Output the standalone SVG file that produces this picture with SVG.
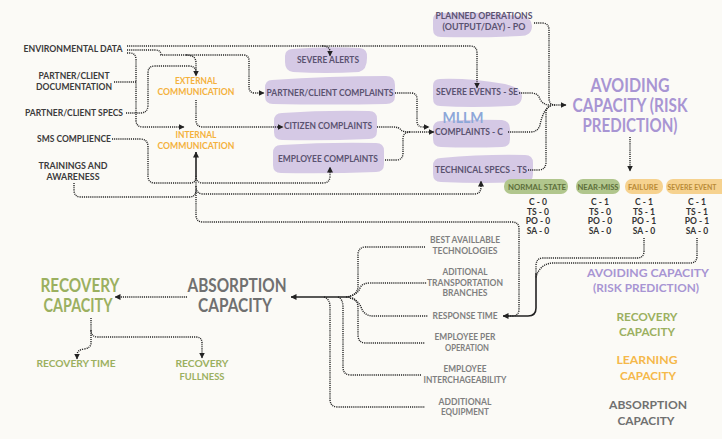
<svg xmlns="http://www.w3.org/2000/svg" width="722" height="439" viewBox="0 0 722 439">
<defs>
<style>
text{font-family:Lato,"Liberation Sans",sans-serif;font-weight:700;text-anchor:middle}
.l{font-size:9px;fill:#3b3b3b}
.o{font-size:9.5px;fill:#F4B13C}
.b{font-size:9px;fill:#5a5270}
.t{font-size:8.5px;fill:#333}
.g{font-size:8.5px;fill:#7f7f7f}
.bp{font-size:18px;fill:#A895D3}
.bg{font-size:18px;fill:#707070}
.bgr{font-size:18px;fill:#9BB060}
.sg{font-size:9px;fill:#9BB060}
.lg{font-size:11.5px}
.blob{fill:#D5C9E5}
.d{fill:none;stroke:#222;stroke-width:1.4;stroke-dasharray:1.1 1}
.s{fill:none;stroke:#222;stroke-width:1.6}
</style>
<marker id="a" viewBox="0 0 6 6" refX="5.5" refY="3" markerWidth="6" markerHeight="6" markerUnits="userSpaceOnUse" orient="auto"><path d="M0,0 L6,3 L0,6 Z" fill="#222"/></marker>
</defs>
<rect width="722" height="439" fill="#FBFAF6"/>

<g id="blobs">
<path class="blob" d="M292,49 Q326,46 360,48 Q368,49 367,58 Q367,70 359,72 Q326,74 293,72 Q285,71 285,62 V56 Q285,50 292,49 Z"/>
<path class="blob" d="M272,80 Q330,76 386,76 Q395,76 395,85 V96 Q395,104 386,104 Q330,105 273,104 Q265,104 265,96 V88 Q265,80 272,80 Z"/>
<path class="blob" d="M282,113 Q325,110 369,111 Q377,111 377,119 V131 Q377,139 369,139 Q325,141 282,140 Q274,140 274,132 V121 Q274,113 282,113 Z"/>
<path class="blob" d="M281,145 Q328,142 376,143 Q384,143 384,151 V164 Q384,172 376,172 Q328,174 281,173 Q273,173 273,165 V153 Q273,145 281,145 Z"/>
<path class="blob" d="M440,13 Q480,11 520,16 Q532,18 532,26 Q532,36 520,36 Q480,38 441,37 Q433,37 433,29 V20 Q433,13 440,13 Z"/>
<path class="blob" d="M440,79 Q470,78 505,84 Q522,88 522,96 Q522,106 510,106 Q470,108 440,106 Q433,106 433,98 V86 Q433,79 440,79 Z"/>
<path class="blob" d="M441,121 Q475,119 502,120 Q510,121 510,129 V139 Q510,147 502,147 Q470,148 441,147 Q433,147 433,139 V129 Q433,121 441,121 Z"/>
<path class="blob" d="M441,158 Q485,154 525,155 Q533,155 533,163 V174 Q533,182 525,182 Q485,184 441,182 Q433,182 433,174 V166 Q433,158 441,158 Z"/>
<rect x="504" y="179" width="64" height="15" rx="7" fill="#B1C68D"/>
<rect x="576" y="179" width="44" height="15" rx="7" fill="#B1C68D"/>
<rect x="625" y="179" width="38" height="15" rx="7" fill="#F6D28F"/>
<rect x="666" y="179" width="62" height="15" rx="7" fill="#F6D28F"/>
</g>

<g id="connectors">
<path class="d" d="M127,46 H470 Q477,46 477,53 V88" marker-end="url(#a)"/>
<path class="d" d="M322,46 Q330,46 330,52 V56" marker-end="url(#a)"/>
<path class="d" d="M127,50 H155 Q161,50 161,55 H243 Q249,55 249,61 V87 Q249,93 255,93 H264" marker-end="url(#a)"/>
<path class="d" d="M186,55 Q196,55 196,63 V76" marker-end="url(#a)"/>
<path class="d" d="M127,53 H130 Q136,53 136,60 V120 Q136,127 143,127 H184" marker-end="url(#a)"/>
<path class="d" d="M114,82 H136"/>
<path class="d" d="M126,113 H140 Q148,113 148,105 V73 Q148,66 155,66 H188 Q196,66 196,72"/>
<path class="d" d="M196,100 V120 Q196,127 203,127 H283" marker-end="url(#a)"/>
<path class="d" d="M112,139 H140 Q148,139 148,147 V176 Q148,183 155,183 H190 Q196,183 196,177"/>
<path class="d" d="M74,183 V190 Q74,197 81,197 H189 Q196,197 196,190"/>
<path class="s" d="M196,176 V152" marker-end="url(#a)"/>
<path class="d" d="M196,176 Q196,183 203,183 H323 Q330,183 330,176 V167" marker-end="url(#a)"/>
<path class="d" d="M196,186 Q196,194 203,194 H474 Q481,194 481,187 V181" marker-end="url(#a)"/>
<path class="d" d="M196,176 V215 Q196,222 203,222 H512 Q519,222 519,229 V309 Q519,316 512,316 H504"/>
<path class="d" d="M395,93 H411 Q417,93 417,99 V121 Q417,127 423,127 H429" marker-end="url(#a)"/>
<path class="d" d="M377,127 H393 Q399,127 401,130 Q403,132 409,132 H434" marker-end="url(#a)"/>
<path class="d" d="M385,160 H396 Q403,160 403,153 V139 Q403,132 410,132"/>
<path class="d" d="M519,93 H531 Q538,93 540,99 Q543,105 550,105 H566" marker-end="url(#a)"/>
<path class="d" d="M508,132 H530 Q538,132 540,125 Q543,110 550,106"/>
<path class="d" d="M528,170 H538 Q546,170 546,162 V113 Q546,106 552,106"/>
<path class="d" d="M534,23 H542 Q549,23 549,30 V98 Q549,105 555,105"/>
<path class="d" d="M630,137 V171" marker-end="url(#a)"/>
<path class="d" d="M644,238 V251 Q644,258 637,258 H543 Q536,258 536,266 V273"/>
<path class="d" d="M697,238 V256 Q697,263 690,263 H553 Q546,263 541,268 Q537,272 536,278"/>
<path class="s" d="M536,273 V308 Q536,316 528,316 H503" marker-end="url(#a)"/>
<path class="s" d="M350,297 H291" marker-end="url(#a)"/>
<path class="d" d="M346,297 Q357,296 358,287 V255 Q358,247 366,247 H425"/>
<path class="d" d="M350,296 Q358,294 360,288 Q362,283 370,283 H427"/>
<path class="d" d="M350,298 Q358,300 361,307 Q364,316 373,316 H428"/>
<path class="d" d="M352,298 Q358,300 358,308 V335 Q358,343 366,343 H425"/>
<path class="d" d="M338,297 Q343,299 343,307 V367 Q343,375 351,375 H422"/>
<path class="d" d="M324,297 Q330,299 330,307 V399 Q330,407 338,407 H425"/>
<path class="d" d="M187,297 H115" marker-end="url(#a)"/>
<path class="d" d="M91,318 V343 Q91,348 84,349 Q77,350 77,355 V359" marker-end="url(#a)"/>
<path class="d" d="M91,330 Q91,337 98,337 H196 Q202,337 202,343 V358" marker-end="url(#a)"/>
</g>

<g id="n-env"><text class="l" x="73" y="52" textLength="99" lengthAdjust="spacingAndGlyphs">ENVIRONMENTAL DATA</text></g>
<g id="n-doc"><text class="l" x="74" y="79" textLength="71" lengthAdjust="spacingAndGlyphs">PARTNER/CLIENT</text><text class="l" x="74" y="90" textLength="76" lengthAdjust="spacingAndGlyphs">DOCUMENTATION</text></g>
<g id="n-specs"><text class="l" x="74" y="116" textLength="98" lengthAdjust="spacingAndGlyphs">PARTNER/CLIENT SPECS</text></g>
<g id="n-sms"><text class="l" x="74" y="142" textLength="74" lengthAdjust="spacingAndGlyphs">SMS COMPLIENCE</text></g>
<g id="n-train"><text class="l" x="73" y="169" textLength="69" lengthAdjust="spacingAndGlyphs">TRAININGS AND</text><text class="l" x="73" y="180" textLength="53" lengthAdjust="spacingAndGlyphs">AWARENESS</text></g>
<g id="n-ext"><text class="o" x="196" y="84" textLength="42" lengthAdjust="spacingAndGlyphs">EXTERNAL</text><text class="o" x="196" y="95" textLength="77" lengthAdjust="spacingAndGlyphs">COMMUNICATION</text></g>
<g id="n-int"><text class="o" x="196" y="138" textLength="41" lengthAdjust="spacingAndGlyphs">INTERNAL</text><text class="o" x="196" y="149" textLength="77" lengthAdjust="spacingAndGlyphs">COMMUNICATION</text></g>
<g id="n-alerts"><text class="b" x="328" y="63" textLength="62" lengthAdjust="spacingAndGlyphs">SEVERE ALERTS</text></g>
<g id="n-pcc"><text class="b" x="330" y="96" textLength="127" lengthAdjust="spacingAndGlyphs">PARTNER/CLIENT COMPLAINTS</text></g>
<g id="n-cit"><text class="b" x="328" y="129" textLength="88" lengthAdjust="spacingAndGlyphs">CITIZEN COMPLAINTS</text></g>
<g id="n-emp"><text class="b" x="328" y="162" textLength="100" lengthAdjust="spacingAndGlyphs">EMPLOYEE COMPLAINTS</text></g>
<g id="n-po"><text class="b" x="484" y="19" textLength="97" lengthAdjust="spacingAndGlyphs">PLANNED OPERATIONS</text><text class="b" x="484" y="30" textLength="83" lengthAdjust="spacingAndGlyphs">(OUTPUT/DAY) - PO</text></g>
<g id="n-se"><text class="b" x="477" y="95" textLength="82" lengthAdjust="spacingAndGlyphs">SEVERE EVENTS - SE</text></g>
<g id="n-mllm"><text x="463" y="123" font-size="16" fill="#8DA7D9" font-weight="400" textLength="41" lengthAdjust="spacingAndGlyphs">MLLM</text></g>
<g id="n-c"><text class="b" x="469" y="135" textLength="68" lengthAdjust="spacingAndGlyphs">COMPLAINTS - C</text></g>
<g id="n-ts"><text class="b" x="481" y="173" textLength="92" lengthAdjust="spacingAndGlyphs">TECHNICAL SPECS - TS</text></g>
<g id="n-avoid"><text class="bp" x="630" y="92" textLength="79" lengthAdjust="spacingAndGlyphs">AVOIDING</text><text class="bp" x="630" y="112" textLength="115" lengthAdjust="spacingAndGlyphs">CAPACITY (RISK</text><text class="bp" x="630" y="132" textLength="95" lengthAdjust="spacingAndGlyphs">PREDICTION)</text></g>

<g id="n-table">
<text x="537" y="190" font-size="8" fill="#5C6E3A" textLength="58" lengthAdjust="spacingAndGlyphs">NORMAL STATE</text>
<text x="598" y="190" font-size="8" fill="#5C6E3A" textLength="41" lengthAdjust="spacingAndGlyphs">NEAR-MISS</text>
<text x="643" y="190" font-size="8" fill="#B98A36" textLength="30" lengthAdjust="spacingAndGlyphs">FAILURE</text>
<text x="692" y="190" font-size="7.5" fill="#B98A36" textLength="49" lengthAdjust="spacingAndGlyphs">SEVERE EVENT</text>
<text class="t" x="538" y="205">C - 0</text><text class="t" x="538" y="215">TS - 0</text><text class="t" x="538" y="224">PO - 0</text><text class="t" x="538" y="234">SA - 0</text>
<text class="t" x="600" y="205">C - 1</text><text class="t" x="600" y="215">TS - 0</text><text class="t" x="600" y="224">PO - 0</text><text class="t" x="600" y="234">SA - 0</text>
<text class="t" x="644" y="205">C - 1</text><text class="t" x="644" y="215">TS - 1</text><text class="t" x="644" y="224">PO - 1</text><text class="t" x="644" y="234">SA - 0</text>
<text class="t" x="697" y="205">C - 1</text><text class="t" x="697" y="215">TS - 1</text><text class="t" x="697" y="224">PO - 1</text><text class="t" x="697" y="234">SA - 0</text>
</g>

<g id="n-bat"><text class="g" x="465" y="243" textLength="70" lengthAdjust="spacingAndGlyphs">BEST AVAILLABLE</text><text class="g" x="465" y="254" textLength="65" lengthAdjust="spacingAndGlyphs">TECHNOLOGIES</text></g>
<g id="n-atb"><text class="g" x="465" y="275" textLength="45" lengthAdjust="spacingAndGlyphs">ADITIONAL</text><text class="g" x="465" y="286" textLength="76" lengthAdjust="spacingAndGlyphs">TRANSPORTATION</text><text class="g" x="465" y="296" textLength="45" lengthAdjust="spacingAndGlyphs">BRANCHES</text></g>
<g id="n-rt"><text class="g" x="465" y="319" textLength="65" lengthAdjust="spacingAndGlyphs">RESPONSE TIME</text></g>
<g id="n-epo"><text class="g" x="465" y="340" textLength="61" lengthAdjust="spacingAndGlyphs">EMPLOYEE PER</text><text class="g" x="467" y="351" textLength="44" lengthAdjust="spacingAndGlyphs">OPERATION</text></g>
<g id="n-ei"><text class="g" x="465" y="372" textLength="43" lengthAdjust="spacingAndGlyphs">EMPLOYEE</text><text class="g" x="465" y="383" textLength="83" lengthAdjust="spacingAndGlyphs">INTERCHAGEABILITY</text></g>
<g id="n-ae"><text class="g" x="465" y="405" textLength="53" lengthAdjust="spacingAndGlyphs">ADDITIONAL</text><text class="g" x="465" y="415" textLength="48" lengthAdjust="spacingAndGlyphs">EQUIPMENT</text></g>

<g id="n-abs"><text class="bg" x="237" y="292" textLength="99" lengthAdjust="spacingAndGlyphs">ABSORPTION</text><text class="bg" x="235" y="312" textLength="74" lengthAdjust="spacingAndGlyphs">CAPACITY</text></g>
<g id="n-rec"><text class="bgr" x="80" y="292" textLength="79" lengthAdjust="spacingAndGlyphs">RECOVERY</text><text class="bgr" x="78" y="312" textLength="69" lengthAdjust="spacingAndGlyphs">CAPACITY</text></g>
<g id="n-rtime"><text class="sg" x="76" y="367" textLength="79" lengthAdjust="spacingAndGlyphs">RECOVERY TIME</text></g>
<g id="n-rfull"><text class="sg" x="202" y="367" textLength="53" lengthAdjust="spacingAndGlyphs">RECOVERY</text><text class="sg" x="202" y="380" textLength="45" lengthAdjust="spacingAndGlyphs">FULLNESS</text></g>

<g id="legend">
<text class="lg" x="648" y="277" fill="#A895D3" textLength="122" lengthAdjust="spacingAndGlyphs">AVOIDING CAPACITY</text>
<text class="lg" x="646" y="292" fill="#A895D3" textLength="106" lengthAdjust="spacingAndGlyphs">(RISK PREDICTION)</text>
<text class="lg" x="647" y="321" fill="#9BB060" textLength="61" lengthAdjust="spacingAndGlyphs">RECOVERY</text>
<text class="lg" x="647" y="336" fill="#9BB060" textLength="56" lengthAdjust="spacingAndGlyphs">CAPACITY</text>
<text class="lg" x="647" y="364" fill="#F5B84A" textLength="61" lengthAdjust="spacingAndGlyphs">LEARNING</text>
<text class="lg" x="648" y="380" fill="#F5B84A" textLength="56" lengthAdjust="spacingAndGlyphs">CAPACITY</text>
<text class="lg" x="648" y="409" fill="#707070" textLength="78" lengthAdjust="spacingAndGlyphs">ABSORPTION</text>
<text class="lg" x="646" y="425" fill="#707070" textLength="57" lengthAdjust="spacingAndGlyphs">CAPACITY</text>
</g>
</svg>
